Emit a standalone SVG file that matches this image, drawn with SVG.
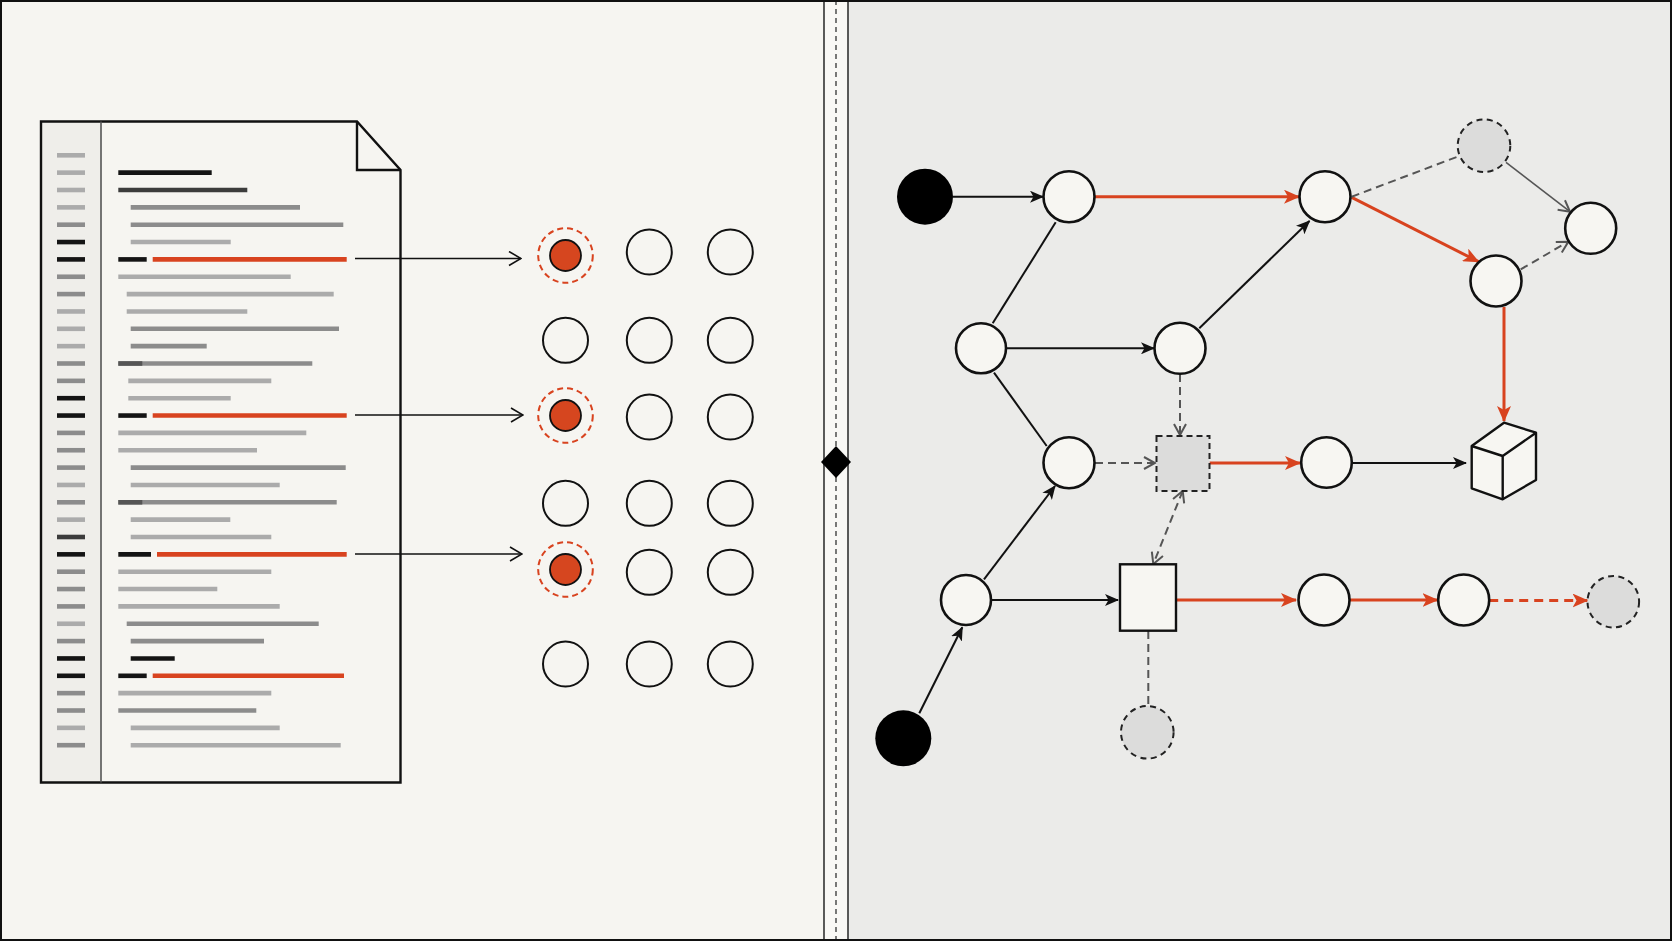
<svg xmlns="http://www.w3.org/2000/svg" width="1672" height="941" viewBox="0 0 1672 941">
<defs>
<style>
.k{stroke:#141414}.d{stroke:#3c3c3c}.m{stroke:#8c8c8c}.l{stroke:#ababab}.r{stroke:#d8431f}
.g line{stroke-width:4.6;stroke-linecap:butt}
.node{fill:#f7f6f2;stroke:#111;stroke-width:2.6}
.ghost{fill:#dcdcdb;stroke:#222;stroke-width:2;stroke-dasharray:6 4.5}
.grid{fill:none;stroke:#111;stroke-width:2}
.cb{stroke:#111;stroke-width:2;fill:none}
.cr{stroke:#d8431f;stroke-width:3;fill:none}
.cg{stroke:#555;stroke-width:2;fill:none;stroke-dasharray:8 5}
.cgs{stroke:#555;stroke-width:1.6;fill:none}
</style>
<marker id="ab" viewBox="0 0 14 12" markerWidth="14" markerHeight="12" refX="13" refY="6" orient="auto" markerUnits="userSpaceOnUse"><path d="M0,0 L14,6 L0,12 L3.5,6 z" fill="#111"/></marker>
<marker id="ar" viewBox="0 0 16 14" markerWidth="16" markerHeight="14" refX="15" refY="7" orient="auto" markerUnits="userSpaceOnUse"><path d="M0,0 L16,7 L0,14 L4,7 z" fill="#d8431f"/></marker>
<marker id="ag" viewBox="0 0 14 14" markerWidth="14" markerHeight="14" refX="12" refY="7" orient="auto-start-reverse" markerUnits="userSpaceOnUse"><path d="M1,1 L12,7 L1,13" fill="none" stroke="#555" stroke-width="2"/></marker>
<marker id="ak" viewBox="0 0 14 16" markerWidth="14" markerHeight="16" refX="13" refY="8" orient="auto" markerUnits="userSpaceOnUse"><path d="M1,1 L13,8 L1,15" fill="none" stroke="#111" stroke-width="1.6"/></marker>
</defs>

<!-- backgrounds -->
<rect x="0" y="0" width="1672" height="941" fill="#f6f5f1"/>
<rect x="848" y="0" width="824" height="941" fill="#ebebe9"/>
<rect x="824" y="0" width="24" height="941" fill="#f9f8f5"/>
<line x1="824" y1="0" x2="824" y2="941" stroke="#333" stroke-width="1.6"/>
<line x1="848" y1="0" x2="848" y2="941" stroke="#333" stroke-width="1.6"/>
<line x1="836" y1="0" x2="836" y2="941" stroke="#333" stroke-width="1.3" stroke-dasharray="5 4"/>
<path d="M836,446 L851,462 L836,478 L821,462 z" fill="#000"/>
<rect x="1" y="1" width="1670" height="939" fill="none" stroke="#111" stroke-width="2"/>

<!-- document -->
<g id="document">
<rect x="41" y="121.5" width="60" height="661" fill="#efeeea"/>
<path d="M41,121.5 L357,121.5 L400.5,170 L400.5,782.5 L41,782.5 z" fill="none" stroke="#111" stroke-width="2.4"/>
<path d="M357,121.5 L357,170 L400.5,170" fill="none" stroke="#111" stroke-width="2.4"/>
<line x1="101" y1="121.5" x2="101" y2="782.5" stroke="#555" stroke-width="1.6"/>
<g class="g">
<line class="l" x1="57" y1="155.3" x2="85" y2="155.3"/>
<line class="l" x1="57" y1="172.65" x2="85" y2="172.65"/>
<line class="l" x1="57" y1="190" x2="85" y2="190"/>
<line class="l" x1="57" y1="207.35" x2="85" y2="207.35"/>
<line class="m" x1="57" y1="224.7" x2="85" y2="224.7"/>
<line class="k" x1="57" y1="242.05" x2="85" y2="242.05"/>
<line class="k" x1="57" y1="259.4" x2="85" y2="259.4"/>
<line class="m" x1="57" y1="276.75" x2="85" y2="276.75"/>
<line class="m" x1="57" y1="294.1" x2="85" y2="294.1"/>
<line class="l" x1="57" y1="311.45" x2="85" y2="311.45"/>
<line class="l" x1="57" y1="328.8" x2="85" y2="328.8"/>
<line class="l" x1="57" y1="346.15" x2="85" y2="346.15"/>
<line class="m" x1="57" y1="363.5" x2="85" y2="363.5"/>
<line class="m" x1="57" y1="380.85" x2="85" y2="380.85"/>
<line class="k" x1="57" y1="398.2" x2="85" y2="398.2"/>
<line class="k" x1="57" y1="415.55" x2="85" y2="415.55"/>
<line class="m" x1="57" y1="432.9" x2="85" y2="432.9"/>
<line class="m" x1="57" y1="450.25" x2="85" y2="450.25"/>
<line class="m" x1="57" y1="467.6" x2="85" y2="467.6"/>
<line class="l" x1="57" y1="484.95" x2="85" y2="484.95"/>
<line class="m" x1="57" y1="502.3" x2="85" y2="502.3"/>
<line class="l" x1="57" y1="519.65" x2="85" y2="519.65"/>
<line class="d" x1="57" y1="537" x2="85" y2="537"/>
<line class="k" x1="57" y1="554.35" x2="85" y2="554.35"/>
<line class="m" x1="57" y1="571.7" x2="85" y2="571.7"/>
<line class="m" x1="57" y1="589.05" x2="85" y2="589.05"/>
<line class="m" x1="57" y1="606.4" x2="85" y2="606.4"/>
<line class="l" x1="57" y1="623.75" x2="85" y2="623.75"/>
<line class="m" x1="57" y1="641.1" x2="85" y2="641.1"/>
<line class="k" x1="57" y1="658.45" x2="85" y2="658.45"/>
<line class="k" x1="57" y1="675.8" x2="85" y2="675.8"/>
<line class="m" x1="57" y1="693.15" x2="85" y2="693.15"/>
<line class="m" x1="57" y1="710.5" x2="85" y2="710.5"/>
<line class="l" x1="57" y1="727.85" x2="85" y2="727.85"/>
<line class="m" x1="57" y1="745.2" x2="85" y2="745.2"/>

<line class="k" x1="118.3" y1="172.65" x2="211.7" y2="172.65"/>
<line class="d" x1="118.3" y1="190" x2="247.3" y2="190"/>
<line class="m" x1="130.7" y1="207.35" x2="300" y2="207.35"/>
<line class="m" x1="130.7" y1="224.7" x2="343.3" y2="224.7"/>
<line class="l" x1="130.7" y1="242.05" x2="230.7" y2="242.05"/>
<line class="k" x1="118.3" y1="259.4" x2="146.7" y2="259.4"/>
<line class="r" x1="152.7" y1="259.4" x2="346.7" y2="259.4"/>
<line class="l" x1="118.3" y1="276.75" x2="290.7" y2="276.75"/>
<line class="l" x1="126.7" y1="294.1" x2="333.7" y2="294.1"/>
<line class="l" x1="126.7" y1="311.45" x2="247.3" y2="311.45"/>
<line class="m" x1="130.7" y1="328.8" x2="339" y2="328.8"/>
<line class="m" x1="130.7" y1="346.15" x2="206.7" y2="346.15"/>
<line class="m" x1="118.3" y1="363.5" x2="312.3" y2="363.5"/>
<line style="stroke:#555" x1="118.3" y1="363.5" x2="142.3" y2="363.5"/>
<line class="l" x1="128.3" y1="380.85" x2="271.3" y2="380.85"/>
<line class="l" x1="128.3" y1="398.2" x2="230.7" y2="398.2"/>
<line class="k" x1="118.3" y1="415.55" x2="146.7" y2="415.55"/>
<line class="r" x1="152.7" y1="415.55" x2="346.7" y2="415.55"/>
<line class="l" x1="118.3" y1="432.9" x2="306.3" y2="432.9"/>
<line class="l" x1="118.3" y1="450.25" x2="257" y2="450.25"/>
<line class="m" x1="130.7" y1="467.6" x2="345.7" y2="467.6"/>
<line class="l" x1="130.7" y1="484.95" x2="279.7" y2="484.95"/>
<line class="m" x1="118.3" y1="502.3" x2="336.7" y2="502.3"/>
<line style="stroke:#555" x1="118.3" y1="502.3" x2="142.3" y2="502.3"/>
<line class="l" x1="130.7" y1="519.65" x2="230.3" y2="519.65"/>
<line class="l" x1="130.7" y1="537" x2="271.3" y2="537"/>
<line class="k" x1="118.3" y1="554.35" x2="151" y2="554.35"/>
<line class="r" x1="157" y1="554.35" x2="346.7" y2="554.35"/>
<line class="l" x1="118.3" y1="571.7" x2="271.3" y2="571.7"/>
<line class="l" x1="118.3" y1="589.05" x2="217.3" y2="589.05"/>
<line class="l" x1="118.3" y1="606.4" x2="279.7" y2="606.4"/>
<line class="m" x1="126.7" y1="623.75" x2="318.7" y2="623.75"/>
<line class="m" x1="130.7" y1="641.1" x2="264" y2="641.1"/>
<line class="k" x1="130.7" y1="658.45" x2="174.7" y2="658.45"/>
<line class="k" x1="118.3" y1="675.8" x2="146.7" y2="675.8"/>
<line class="r" x1="152.7" y1="675.8" x2="344" y2="675.8"/>
<line class="l" x1="118.3" y1="693.15" x2="271.3" y2="693.15"/>
<line class="m" x1="118.3" y1="710.5" x2="256.3" y2="710.5"/>
<line class="l" x1="130.7" y1="727.85" x2="279.7" y2="727.85"/>
<line class="l" x1="130.7" y1="745.2" x2="340.7" y2="745.2"/>
</g>
</g>

<!-- circle grid -->
<g id="grid">
<g id="hl1"><circle cx="565.5" cy="255.5" r="27.3" fill="none" stroke="#d8431f" stroke-width="2" stroke-dasharray="6 4"/><circle cx="565.5" cy="255.5" r="15.5" fill="#d6461f" stroke="#111" stroke-width="1.8"/></g>
<circle class="grid" cx="649.3" cy="252" r="22.5"/>
<circle class="grid" cx="730.3" cy="252" r="22.5"/>
<circle class="grid" cx="565.5" cy="340.3" r="22.5"/>
<circle class="grid" cx="649.3" cy="340.3" r="22.5"/>
<circle class="grid" cx="730.3" cy="340.3" r="22.5"/>
<g id="hl2"><circle cx="565.5" cy="415.5" r="27.3" fill="none" stroke="#d8431f" stroke-width="2" stroke-dasharray="6 4"/><circle cx="565.5" cy="415.5" r="15.5" fill="#d6461f" stroke="#111" stroke-width="1.8"/></g>
<circle class="grid" cx="649.3" cy="417" r="22.5"/>
<circle class="grid" cx="730.3" cy="417" r="22.5"/>
<circle class="grid" cx="565.5" cy="503.3" r="22.5"/>
<circle class="grid" cx="649.3" cy="503.3" r="22.5"/>
<circle class="grid" cx="730.3" cy="503.3" r="22.5"/>
<g id="hl3"><circle cx="565.5" cy="569.5" r="27.3" fill="none" stroke="#d8431f" stroke-width="2" stroke-dasharray="6 4"/><circle cx="565.5" cy="569.5" r="15.5" fill="#d6461f" stroke="#111" stroke-width="1.8"/></g>
<circle class="grid" cx="649.3" cy="572.3" r="22.5"/>
<circle class="grid" cx="730.3" cy="572.3" r="22.5"/>
<circle class="grid" cx="565.5" cy="664" r="22.5"/>
<circle class="grid" cx="649.3" cy="664" r="22.5"/>
<circle class="grid" cx="730.3" cy="664" r="22.5"/>
</g>

<!-- connectors -->
<g id="connectors">
<line x1="355" y1="258.5" x2="521" y2="258.5" stroke="#111" stroke-width="1.6" marker-end="url(#ak)"/>
<line x1="355" y1="415" x2="523" y2="415" stroke="#111" stroke-width="1.6" marker-end="url(#ak)"/>
<line x1="355" y1="554" x2="522" y2="554" stroke="#111" stroke-width="1.6" marker-end="url(#ak)"/>

<line class="cb" x1="953" y1="196.7" x2="1043" y2="196.7" marker-end="url(#ab)"/>
<line class="cr" x1="1095" y1="196.7" x2="1299" y2="196.7" marker-end="url(#ar)"/>
<line class="cb" x1="992.7" y1="323.3" x2="1055.7" y2="222.3"/>
<line class="cb" x1="1006" y1="348.3" x2="1154" y2="348.3" marker-end="url(#ab)"/>
<line class="cb" x1="1199.3" y1="328.3" x2="1309.5" y2="221" marker-end="url(#ab)"/>
<line class="cb" x1="994" y1="372.7" x2="1046.7" y2="446"/>
<line class="cg" x1="1180" y1="374" x2="1180" y2="435" marker-end="url(#ag)"/>
<line class="cg" x1="1095" y1="463" x2="1155" y2="463" marker-end="url(#ag)"/>
<line class="cr" x1="1209.5" y1="463" x2="1300" y2="463" marker-end="url(#ar)"/>
<line class="cb" x1="1352" y1="463" x2="1466" y2="463" marker-end="url(#ab)"/>
<line class="cr" x1="1351.7" y1="197.3" x2="1478.5" y2="261.7" marker-end="url(#ar)"/>
<line class="cr" x1="1504" y1="307" x2="1504" y2="421" marker-end="url(#ar)"/>
<line class="cg" x1="1351.7" y1="196.7" x2="1459.3" y2="156"/>
<line class="cgs" x1="1506" y1="162.3" x2="1570" y2="211.7" marker-end="url(#ag)"/>
<line class="cg" x1="1520.7" y1="269.3" x2="1568.3" y2="241.7" marker-end="url(#ag)"/>

<line class="cb" x1="919.3" y1="713.3" x2="962.3" y2="627.3" marker-end="url(#ab)"/>
<line class="cb" x1="984" y1="579.3" x2="1055" y2="486" marker-end="url(#ab)"/>
<line class="cb" x1="991" y1="600" x2="1118" y2="600" marker-end="url(#ab)"/>
<line class="cg" x1="1182.7" y1="491" x2="1153.3" y2="564" marker-start="url(#ag)" marker-end="url(#ag)"/>
<line class="cr" x1="1176" y1="600" x2="1296" y2="600" marker-end="url(#ar)"/>
<line class="cr" x1="1349.5" y1="600" x2="1437.5" y2="600" marker-end="url(#ar)"/>
<line class="cr" x1="1489.2" y1="600.5" x2="1587.5" y2="600.5" stroke-dasharray="9 6" marker-end="url(#ar)"/>
<line class="cg" x1="1148.3" y1="631" x2="1148.3" y2="706"/>
</g>

<!-- graph nodes -->
<g id="start1"><circle cx="925" cy="196.7" r="28" fill="#000"/></g>
<g id="start2"><circle cx="903.3" cy="738.3" r="28" fill="#000"/></g>
<g id="nA"><circle class="node" cx="1069" cy="196.7" r="25.5"/></g>
<g id="nB"><circle class="node" cx="1325" cy="196.7" r="25.5"/></g>
<g id="nC"><circle class="node" cx="981" cy="348.3" r="25"/></g>
<g id="nD"><circle class="node" cx="1180" cy="348.3" r="25.5"/></g>
<g id="nE"><circle class="node" cx="1069" cy="462.7" r="25.5"/></g>
<g id="nF"><rect x="1156.5" y="436" width="53" height="55" fill="#dcdcdb" stroke="#222" stroke-width="2" stroke-dasharray="6 4"/></g>
<g id="nG"><circle class="node" cx="1326.5" cy="462.5" r="25.3"/></g>
<g id="nH"><circle class="node" cx="1496" cy="281" r="25.5"/></g>
<g id="nI"><circle class="ghost" cx="1484" cy="145.7" r="26.3"/></g>
<g id="nJ"><circle class="node" cx="1590.7" cy="228.3" r="25.5"/></g>
<g id="cube"><path d="M1504,422.7 L1536,432.7 L1536,480 L1502.7,499.3 L1471.7,488.3 L1471.7,446 z" fill="#f7f6f2" stroke="#111" stroke-width="2.4" stroke-linejoin="round"/><path d="M1471.7,446 L1502.7,456 L1536,432.7 M1502.7,456 L1502.7,499.3" fill="none" stroke="#111" stroke-width="2.4" stroke-linejoin="round"/></g>
<g id="nK"><circle class="node" cx="966" cy="600" r="25"/></g>
<g id="nL"><rect x="1120" y="564.3" width="56" height="66.4" fill="#f7f6f2" stroke="#111" stroke-width="2.4"/></g>
<g id="nM"><circle class="node" cx="1324" cy="600" r="25.5"/></g>
<g id="nN"><circle class="node" cx="1463.7" cy="600" r="25.5"/></g>
<g id="nO"><circle class="ghost" cx="1613.3" cy="601.7" r="25.8"/></g>
<g id="nP"><circle class="ghost" cx="1147.3" cy="732.3" r="26.3"/></g>
</svg>
